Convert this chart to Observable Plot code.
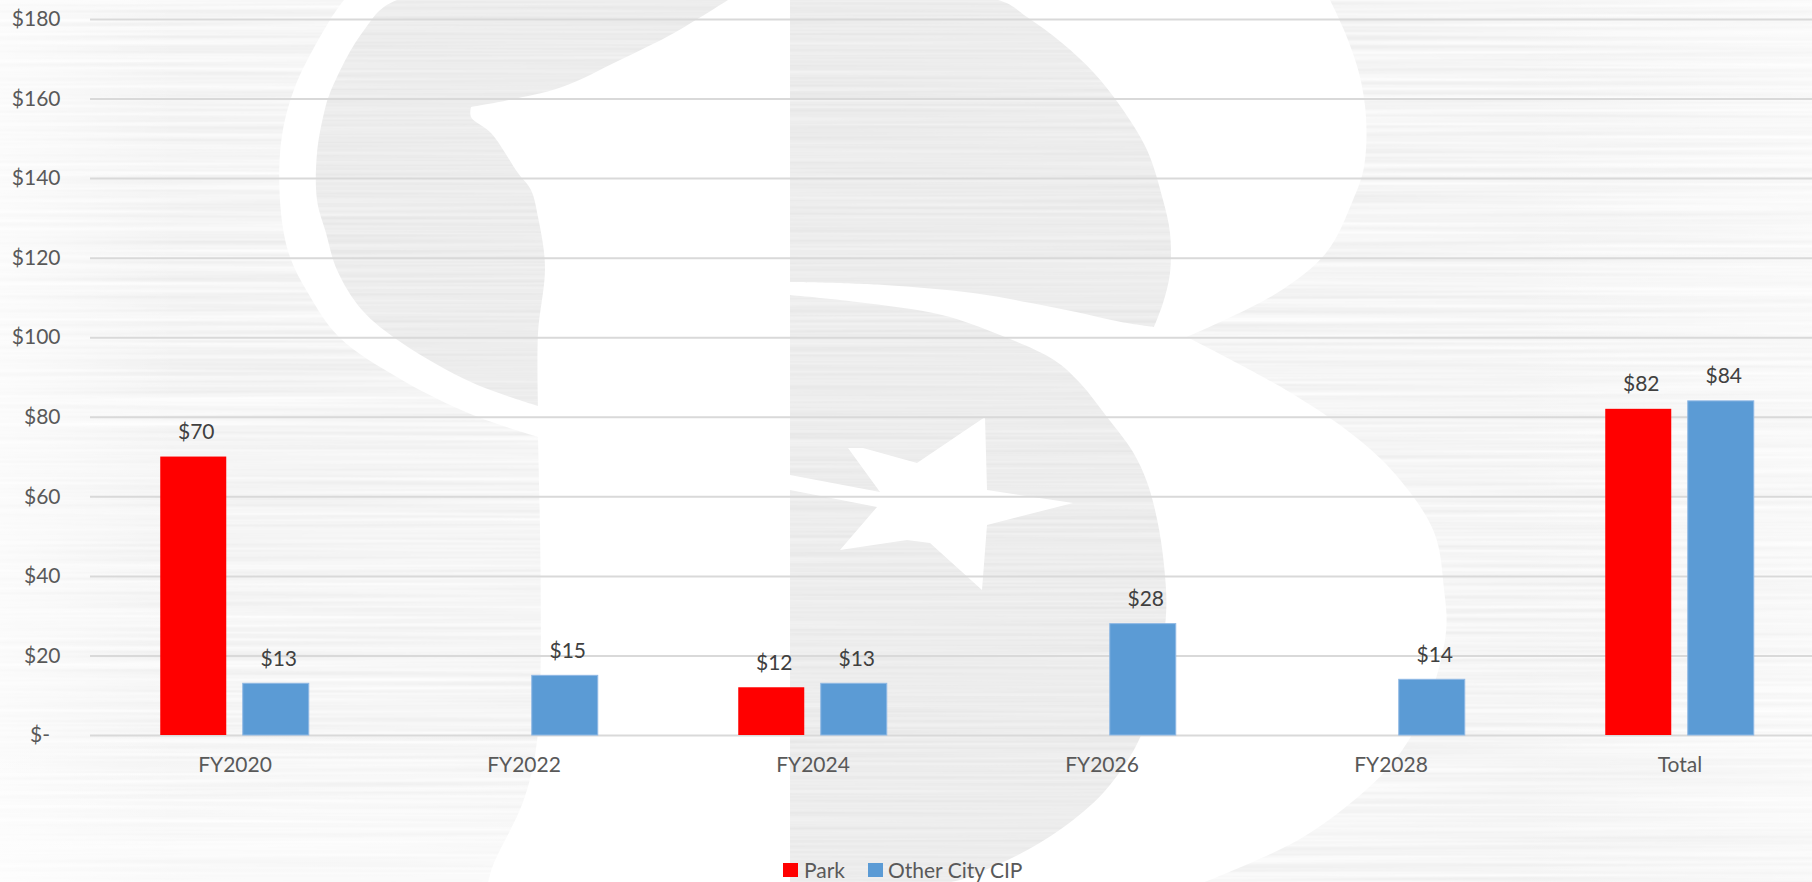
<!DOCTYPE html>
<html>
<head>
<meta charset="utf-8">
<script src="https://cdn.jsdelivr.net/npm/d3@7"></script>
<script src="https://cdn.jsdelivr.net/npm/@observablehq/plot@0.6"></script>
<style>
  html, body { margin: 0; background: #fff; }
  #page { position: relative; width: 1812px; height: 882px; overflow: hidden; font-family: Lato, sans-serif; }
  #watermark { position: absolute; left: 0; top: 0; }
  #chart { position: absolute; left: 0; top: 0; }
  #chart svg { display: block; background: transparent; }
  #legend { position: absolute; left: 0; top: 858px; width: 1812px; height: 24px; font-size: 21px; color: #595959; }
  #legend i { position: absolute; top: 5px; width: 15px; height: 14px; }
  #legend span { position: absolute; top: 0; line-height: 24px; white-space: nowrap; }
</style>
</head>
<body>
<div id="page">
  <!-- Brushed-grey logo watermark behind the chart -->
  <svg id="watermark" width="1812" height="882" viewBox="0 0 1812 882">
    <defs>
      <filter id="streaksDark" x="0" y="0" width="100%" height="100%" color-interpolation-filters="sRGB">
        <feTurbulence type="fractalNoise" baseFrequency="0.002 0.3" numOctaves="2" seed="7"/>
        <feColorMatrix type="matrix" values="0.07 0 0 0 0.893  0.07 0 0 0 0.893  0.07 0 0 0 0.893  0 0 0 0 1"/>
      </filter>
      <filter id="streaksPale" x="0" y="0" width="100%" height="100%" color-interpolation-filters="sRGB">
        <feTurbulence type="fractalNoise" baseFrequency="0.002 0.22" numOctaves="2" seed="11"/>
        <feColorMatrix type="matrix" values="0.09 0 0 0 0.917  0.09 0 0 0 0.917  0.09 0 0 0 0.917  0 0 0 0 1"/>
      </filter>
      <linearGradient id="fadeLeft" x1="0" x2="1" y1="0" y2="0">
        <stop offset="0" stop-color="#fff" stop-opacity="0.6"/>
        <stop offset="1" stop-color="#fff" stop-opacity="0"/>
      </linearGradient>
      <linearGradient id="fadeRight" x1="0" x2="1" y1="0" y2="0">
        <stop offset="0" stop-color="#fff" stop-opacity="0"/>
        <stop offset="1" stop-color="#fff" stop-opacity="0.4"/>
      </linearGradient>
      <linearGradient id="fadeBottom" x1="0" x2="0" y1="0" y2="1">
        <stop offset="0" stop-color="#fff" stop-opacity="0"/>
        <stop offset="1" stop-color="#fff" stop-opacity="0.5"/>
      </linearGradient>
      <clipPath id="paleAreas">
        <polygon points="0,0 344,0 330,20 295,87 281,143 281,213 290,257 308,293 339,337 402,380 473,415 538,437 538,732 524,799 493,865 488,882 0,882"/>
        <polygon points="1330,0 1344,30 1359,73 1366,117 1364,167 1353,200 1326,253 1277,293 1187,337 1286,390 1353,435 1396,475 1434,532 1444,589 1446,632 1429,699 1401,752 1367,789 1300,839 1205,882 1812,882 1812,0"/>
      </clipPath>
      <clipPath id="darkAreas">
        <polygon points="397,0 362,33 330,93 324,113 317,153 317,200 326,233 337,270 362,310 402,343 473,383 538,406 538,333 545,267 538,217 531,190 518,173 491,133 471,117 471,107 509,100 562,87 620,60 674,33 728,0"/>
        <polygon points="790,0 998,0 1027,17 1062,43 1094,73 1121,107 1147,150 1163,200 1170,233 1170,273 1163,303 1154,327 1121,322 1076,312 1031,303 973,293 884,285 790,282"/>
        <polygon points="790,295 857,302 942,315 1000,335 1054,360 1080,383 1107,417 1133,452 1147,482 1157,519 1164,565 1166,615 1152,699 1138,742 1104,792 1061,829 1018,855 980,872 951,882 790,882"/>
      </clipPath>
    </defs>
    <g clip-path="url(#paleAreas)">
      <rect width="1812" height="882" filter="url(#streaksPale)"/>
      <rect x="0" y="0" width="180" height="882" fill="url(#fadeLeft)"/>
      <rect x="1500" y="0" width="312" height="882" fill="url(#fadeRight)"/>
      <rect x="0" y="720" width="560" height="162" fill="url(#fadeBottom)"/>
    </g>
    <g clip-path="url(#darkAreas)">
      <rect width="1812" height="882" filter="url(#streaksDark)"/>
    </g>
    <polygon fill="#fff" points="848,448 863,448 917,463 985,417 987,490 1073,503 987,525 982,590 930,543 907,540 840,550 877,507 790,490 790,475 880,492"/>
  </svg>
  <div id="chart"></div>
  <div id="legend"></div>
</div>
<script>
const fiscalYears = ["FY2020", "FY2022", "FY2024", "FY2026", "FY2028", "Total"];
const seriesNames = ["Park", "Other City CIP"];
const parkValues = [70, null, 12, null, null, 82];
const otherCipValues = [13, 15, 13, 28, 14, 84];
const yTicks = [0, 20, 40, 60, 80, 100, 120, 140, 160, 180];
const seriesColors = ["#ff0000", "#5b9bd5"];

// Soften the watermark outlines: sharp bends stay sharp by doubling their vertex.
const outline = d3.line().curve(d3.curveCatmullRomClosed.alpha(0.5));
document.querySelectorAll("#watermark clipPath polygon").forEach((shape) => {
  const pts = shape.getAttribute("points").trim().split(/\s+/).map((p) => p.split(",").map(Number));
  const n = pts.length;
  const smoothed = pts.flatMap((p, i) => {
    const a = pts[(i + n - 1) % n], b = pts[(i + 1) % n];
    const turn = Math.atan2(b[1] - p[1], b[0] - p[0]) - Math.atan2(p[1] - a[1], p[0] - a[0]);
    const bend = Math.abs(Math.atan2(Math.sin(turn), Math.cos(turn)));
    return bend > 0.9 ? [p, p] : [p];
  });
  const path = document.createElementNS("http://www.w3.org/2000/svg", "path");
  path.setAttribute("d", outline(smoothed));
  shape.replaceWith(path);
});

// Long-form rows for the grouped bars; empty cells simply have no bar or label.
const rows = [
  ...parkValues.map((value, i) => ({year: fiscalYears[i], series: seriesNames[0], value})),
  ...otherCipValues.map((value, i) => ({year: fiscalYears[i], series: seriesNames[1], value}))
].filter((d) => d.value !== null);

const money = (v) => (v === 0 ? "$-\u2002" : `$${v}`);

const chart = Plot.plot({
  width: 1812,
  height: 800,
  marginLeft: 90,
  marginRight: -12,
  marginTop: 19,
  marginBottom: 65,
  style: {background: "transparent", fontFamily: "Lato, sans-serif", fontSize: "21px"},
  fx: {domain: fiscalYears, padding: 0, round: false, label: null},
  x: {domain: seriesNames, paddingInner: 0.2, paddingOuter: 0.8515, round: false, axis: null},
  y: {domain: [0, 180], label: null, axis: null},
  color: {domain: seriesNames, range: seriesColors},
  marks: [
    Plot.gridY(yTicks, {stroke: "#d9d9d9", strokeOpacity: 1, strokeWidth: 2}),
    Plot.barY(rows, {fx: "year", x: "series", y: "value", fill: "series"}),
    Plot.barY(rows.filter((d) => d.series === seriesNames[1]), {
      fx: "year", x: "series", y: "value", fill: "none", stroke: "#8fb8e4", strokeWidth: 1
    }),
    Plot.text(rows, {
      fx: "year", x: "series", y: "value", text: (d) => money(d.value),
      dy: -25, dx: 2.5, fontSize: 21, fill: "#404040"
    }),
    Plot.axisY({
      ticks: yTicks, anchor: "left", tickSize: 0, tickPadding: 30, tickFormat: money,
      label: null, fill: "#595959", fontSize: 21
    }),
    Plot.axisFx({
      anchor: "bottom", tickSize: 0, tickPadding: 22, label: null,
      fill: "#595959", fontSize: 21
    })
  ]
});
document.getElementById("chart").append(chart);

// Legend row below the plot, as swatch and name pairs.
const legendSlots = [
  {swatch: 783, text: 804},
  {swatch: 868, text: 888}
];
const legend = document.getElementById("legend");
seriesNames.forEach((name, i) => {
  const swatch = document.createElement("i");
  swatch.style.left = legendSlots[i].swatch + "px";
  swatch.style.background = seriesColors[i];
  const label = document.createElement("span");
  label.style.left = legendSlots[i].text + "px";
  label.textContent = name;
  legend.append(swatch, label);
});
</script>
</body>
</html>
